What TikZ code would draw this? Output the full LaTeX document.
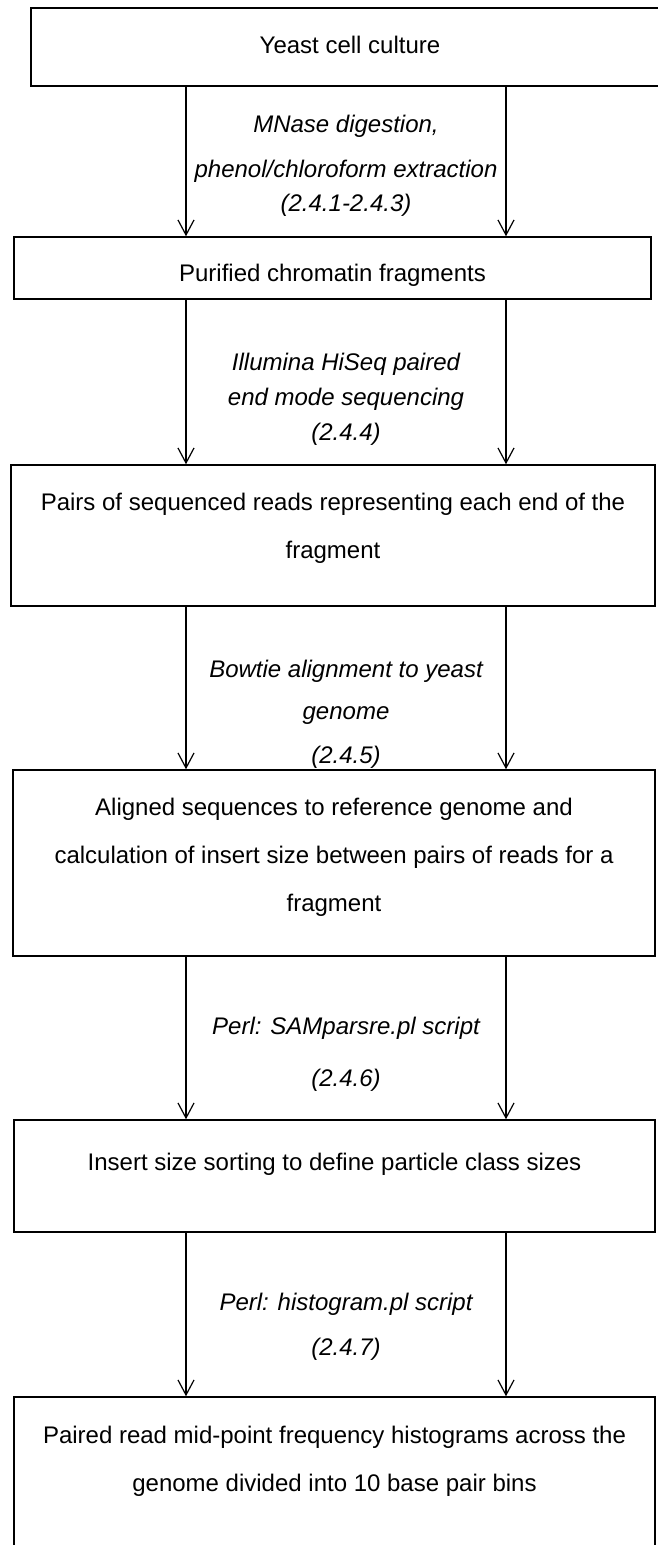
\documentclass[tikz,border=0pt]{standalone}
\usepackage{fontspec}
\setmainfont{Liberation Sans}
\usetikzlibrary{arrows.meta}
\begin{document}
\begin{tikzpicture}[x=1pt,y=-1pt,
  stepbox/.style={draw, line width=1.5pt, rectangle, inner sep=0pt},
  boxtext/.style={anchor=base, inner sep=0pt, font=\fontsize{24}{29}\selectfont},
  steplabel/.style={anchor=base, inner sep=0pt, font=\fontsize{24}{29}\selectfont\itshape},
  flow/.style={line width=1.2pt, -{Straight Barb[length=15pt,width=16pt,line width=1.2pt]}}]
\useasboundingbox (0,0) rectangle (658,1545);
\clip (0,0) rectangle (658,1545);
\fill[white] (0,0) rectangle (658,1545);

% columns of the two parallel connectors
\coordinate (lx) at (186,0);
\coordinate (rx) at (506,0);

% process boxes
\node[stepbox, minimum width=639pt, minimum height=78pt]  (b1) at (350.5,47) {};
\node[stepbox, minimum width=637pt, minimum height=62pt]  (b2) at (332.5,268) {};
\node[stepbox, minimum width=644pt, minimum height=141pt] (b3) at (333,535.5) {};
\node[stepbox, minimum width=642pt, minimum height=186pt] (b4) at (334,863) {};
\node[stepbox, minimum width=641pt, minimum height=112pt] (b5) at (334.5,1176) {};
\node[stepbox, minimum width=641pt, minimum height=173pt] (b6) at (334.5,1483.5) {};

% box texts
\node[boxtext] (t1) at (350,53) {Yeast cell culture};
\node[boxtext] (t2) at (332.5,281) {Purified chromatin fragments};
\node[boxtext] (t3a) at (333,510) {Pairs of sequenced reads representing each end of the};
\node[boxtext] (t3b) at (333,558) {fragment};
\node[boxtext] (t4a) at (334,815) {Aligned sequences to reference genome and};
\node[boxtext] (t4b) at (334,863) {calculation of insert size between pairs of reads for a};
\node[boxtext] (t4c) at (334,911) {fragment};
\node[boxtext] (t5) at (334.5,1170) {Insert size sorting to define particle class sizes};
\node[boxtext] (t6a) at (334.5,1443) {Paired read mid-point frequency histograms across the};
\node[boxtext] (t6b) at (334.5,1491) {genome divided into 10 base pair bins};

% method labels between the boxes
\node[steplabel] (m1a) at (346,132) {MNase digestion,};
\node[steplabel] (m1b) at (346,177) {phenol/chloroform extraction};
\node[steplabel] (m1c) at (346,211) {(2.4.1-2.4.3)};
\node[steplabel] (m2a) at (346,370) {Illumina HiSeq paired};
\node[steplabel] (m2b) at (346,405) {end mode sequencing};
\node[steplabel] (m2c) at (346,440) {(2.4.4)};
\node[steplabel] (m3a) at (346,677) {Bowtie alignment to yeast};
\node[steplabel] (m3b) at (346,719) {genome};
\node[steplabel] (m3c) at (346,763) {(2.4.5)};
\node[steplabel] (m4a) at (346,1034) {Perl: SAMparsre.pl script};
\node[steplabel] (m4b) at (346,1086) {(2.4.6)};
\node[steplabel] (m5a) at (346,1310) {Perl: histogram.pl script};
\node[steplabel] (m5b) at (346,1355) {(2.4.7)};

% connectors
\foreach \a/\b in {b1/b2,b2/b3,b3/b4,b4/b5,b5/b6}{
  \draw[flow] (\a.south -| lx) -- (\b.north -| lx);
  \draw[flow] (\a.south -| rx) -- (\b.north -| rx);
}
\end{tikzpicture}
\end{document}
